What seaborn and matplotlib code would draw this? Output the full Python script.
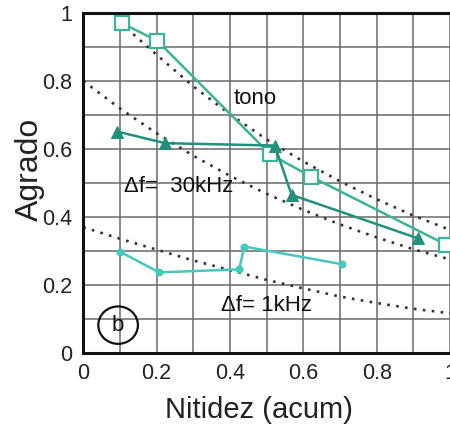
import matplotlib
matplotlib.use("Agg")
import matplotlib.pyplot as plt
from matplotlib.patches import Ellipse
import numpy as np
import pandas as pd
import seaborn as sns

# Measured series
tono_x = [0.105, 0.202, 0.509, 0.622, 0.99]
tono_y = [0.970, 0.918, 0.585, 0.518, 0.318]

df30_x = [0.093, 0.223, 0.522, 0.568, 0.913]
df30_y = [0.651, 0.617, 0.610, 0.465, 0.337]

df1_x = [0.100, 0.207, 0.425, 0.439, 0.706]
df1_y = [0.298, 0.237, 0.246, 0.313, 0.261]

# Reference (dotted) curves
ref_tono_x = [0.118, 0.2, 0.3, 0.4, 0.5, 0.6, 0.7, 0.8, 0.9, 1.0, 1.05]
ref_tono_y = [0.955, 0.877, 0.784, 0.702, 0.628, 0.563, 0.505, 0.452, 0.404, 0.362, 0.344]

ref_30_x = [0.0, 0.1, 0.2, 0.3, 0.4, 0.5, 0.6, 0.7, 0.8, 0.9, 1.0, 1.05]
ref_30_y = [0.800, 0.719, 0.646, 0.580, 0.521, 0.468, 0.421, 0.378, 0.340, 0.305, 0.275, 0.261]

ref_1_x = [0.0, 0.1, 0.2, 0.3, 0.4, 0.5, 0.6, 0.7, 0.8, 0.9, 1.0, 1.05]
ref_1_y = [0.370, 0.336, 0.304, 0.272, 0.244, 0.215, 0.190, 0.166, 0.147, 0.130, 0.117, 0.111]

x_ticks = [0, 0.2, 0.4, 0.6, 0.8, 1.0]
x_ticklabels = ["0", "0.2", "0.4", "0.6", "0.8", "1"]
y_ticks = [0, 0.2, 0.4, 0.6, 0.8, 1.0]
y_ticklabels = ["0", "0.2", "0.4", "0.6", "0.8", "1"]

sns.set_theme(style="white")
plt.rcParams["font.family"] = ["Liberation Sans", "DejaVu Sans"]

fig = plt.figure(figsize=(4.5, 4.3), dpi=100)
# axes extends past the right border of the figure
ax = fig.add_axes([0.185, 0.179, 0.856, 0.791])
ax.set_xlim(0, 1.05)
ax.set_ylim(0, 1.0)

# grid every 0.1
ax.set_xticks(np.arange(0, 1.05, 0.1), minor=True)
ax.set_yticks(np.arange(0, 1.001, 0.1), minor=True)
ax.grid(which="both", color="#6a6a6a", linewidth=1.1)
ax.set_axisbelow(True)

dot = (0, (1, 2.4))
for rx, ry in [(ref_tono_x, ref_tono_y), (ref_30_x, ref_30_y), (ref_1_x, ref_1_y)]:
    sns.lineplot(x=rx, y=ry, ax=ax, color="#333333", linewidth=1.9,
                 linestyle=dot, estimator=None, sort=False)

sns.lineplot(x=tono_x, y=tono_y, ax=ax, color="#3db39a", linewidth=1.8,
             marker="s", markersize=10, markerfacecolor="white",
             markeredgecolor="#3db39a", markeredgewidth=1.6,
             estimator=None, sort=False)
sns.lineplot(x=df30_x, y=df30_y, ax=ax, color="#21907c", linewidth=1.8,
             marker="^", markersize=9, markerfacecolor="#21907c",
             markeredgecolor="#21907c", estimator=None, sort=False)
sns.lineplot(x=df1_x, y=df1_y, ax=ax, color="#48c8bd", linewidth=1.8,
             marker="o", markersize=5, markerfacecolor="#48c8bd",
             markeredgecolor="#48c8bd", estimator=None, sort=False)

ax.text(0.468, 0.749, "tono", fontsize=16, ha="center", va="center", color="#111111")
ax.text(0.112, 0.49, "Δf=  30kHz", fontsize=16, ha="left", va="center", color="#111111")
ax.text(0.375, 0.141, "Δf= 1kHz", fontsize=16, ha="left", va="center", color="#111111")

ax.add_patch(Ellipse((0.095, 0.082), 0.108, 0.11, fill=False, edgecolor="#111111",
                     linewidth=1.6, zorder=5))
ax.text(0.095, 0.082, "b", fontsize=16, ha="center", va="center", color="#111111", zorder=6)

ax.set_xticks(x_ticks)
ax.set_xticklabels(x_ticklabels)
ax.set_yticks(y_ticks)
ax.set_yticklabels(y_ticklabels)
ax.tick_params(which="both", length=0, labelsize=15.5, colors="#222222")
ax.tick_params(axis="x", pad=7)
ax.tick_params(axis="y", pad=8)

for side in ["left", "bottom", "top", "right"]:
    ax.spines[side].set_color("#111111")
    ax.spines[side].set_linewidth(2.2)

ax.set_xlabel("Nitidez (acum)", fontsize=21, color="#222222")
ax.set_ylabel("Agrado", fontsize=23, color="#222222")
ax.xaxis.set_label_coords(0.456, -0.125)
ax.yaxis.set_label_coords(-0.10, 0.54)

fig.savefig("out.png", dpi=100)
